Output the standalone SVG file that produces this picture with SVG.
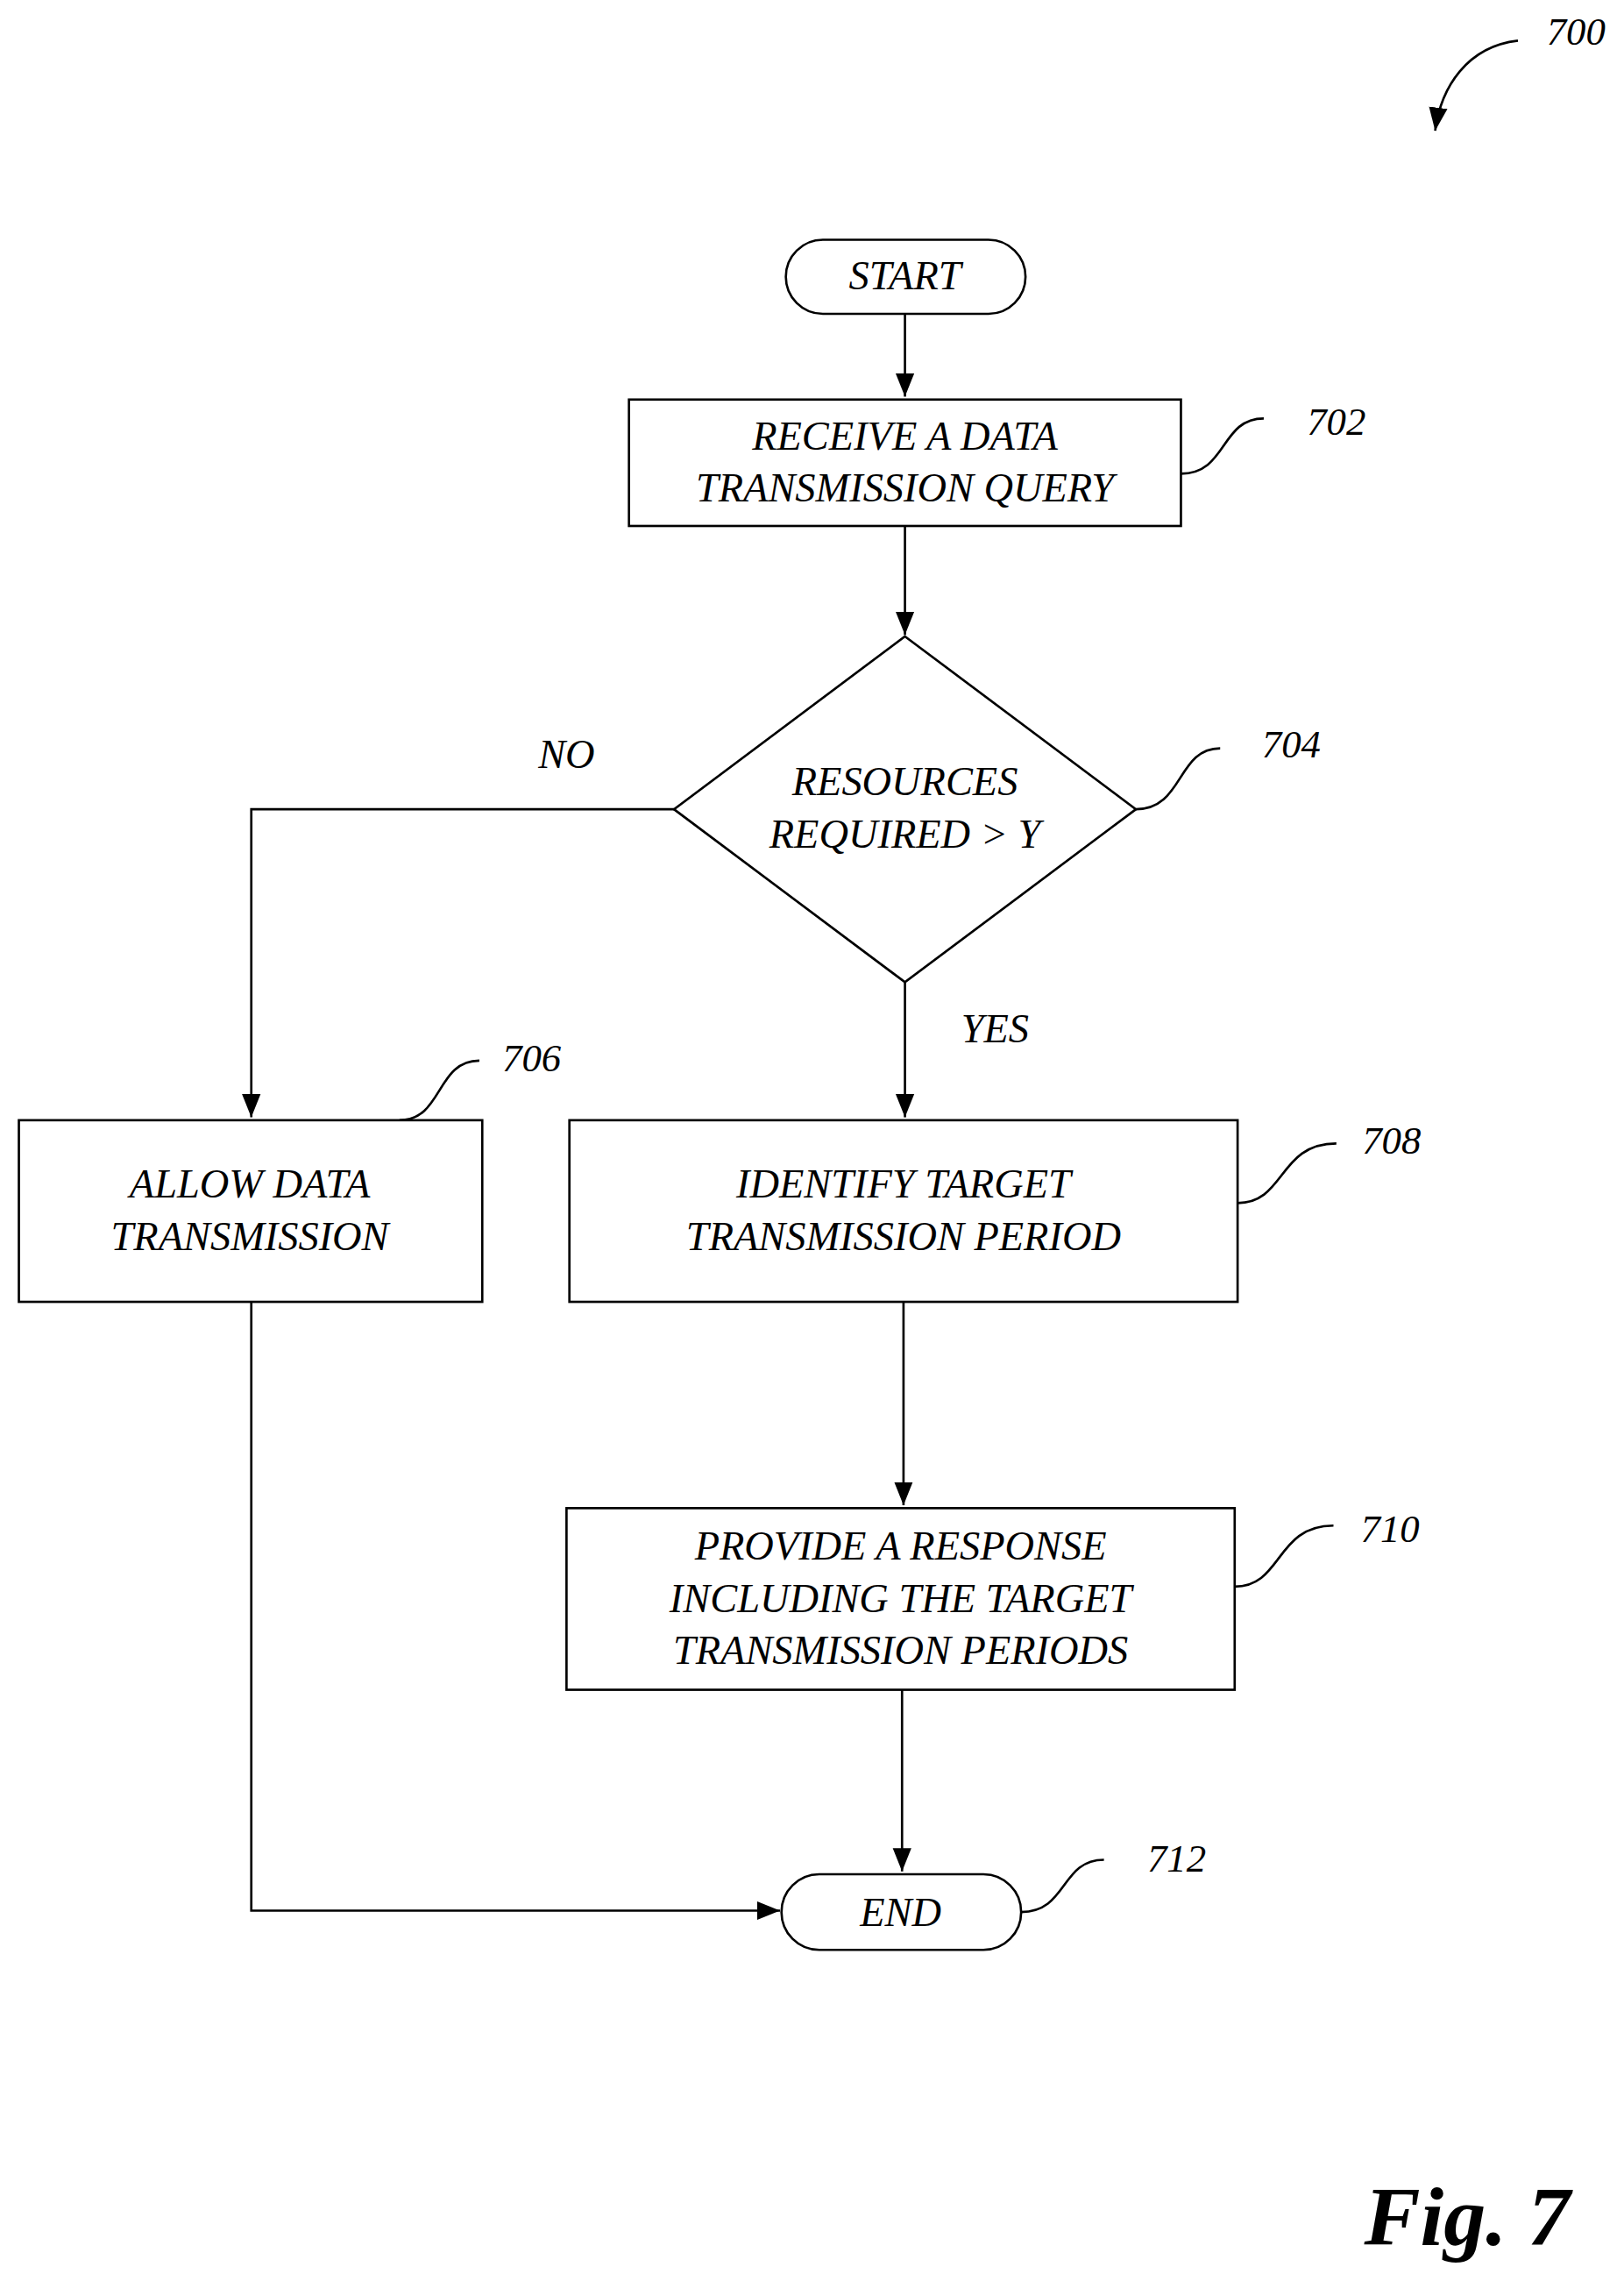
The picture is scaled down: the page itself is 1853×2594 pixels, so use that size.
<svg xmlns="http://www.w3.org/2000/svg" width="1853" height="2594" viewBox="0 0 1853 2594">
<style>
.s{fill:#fff;stroke:#000;stroke-width:1.6}
.c{fill:none;stroke:#000;stroke-width:1.6}
.t{font-family:"Liberation Serif",serif;font-style:italic;font-size:28px;text-anchor:middle;dominant-baseline:central}
.n{font-family:"Liberation Serif",serif;font-style:italic;font-size:27px;text-anchor:middle;dominant-baseline:central}
</style>
<defs><marker id="a" viewBox="0 0 10 10" refX="10" refY="5" markerWidth="10" markerHeight="10" markerUnits="userSpaceOnUse" orient="auto"><path d="M0,1 L10,5 L0,9Z"/></marker>
<marker id="b" viewBox="0 0 10 10" refX="10" refY="5" markerWidth="16" markerHeight="16" markerUnits="userSpaceOnUse" orient="auto"><path d="M0,1 L10,5 L0,9Z"/></marker></defs>
<rect width="1853" height="2594" fill="#fff"/>
<g transform="scale(1.6574)">
<g id="connectors">
<path class="c" marker-end="url(#b)" d="M623,216V273"/>
<path class="c" marker-end="url(#b)" d="M623,362V437"/>
<path class="c" marker-end="url(#b)" d="M464,557H173V769"/>
<path class="c" marker-end="url(#b)" d="M623,676V769"/>
<path class="c" marker-end="url(#b)" d="M622,896V1036"/>
<path class="c" marker-end="url(#b)" d="M621,1163V1288"/>
<path class="c" marker-end="url(#b)" d="M173,896V1315H537"/>
<path class="c" d="M813,326C845,326 840,288 870,288"/>
<path class="c" d="M782,557C815,557 810,515 840,515"/>
<path class="c" d="M275,771C305,771 300,730 330,730"/>
<path class="c" d="M852,828C885,828 880,787 920,787"/>
<path class="c" d="M850,1092C883,1092 878,1050 918,1050"/>
<path class="c" d="M703,1316C735,1316 730,1280 760,1280"/>
<path class="c" marker-end="url(#b)" d="M1045,28C1010,32 992,60 988,90"/>
</g>
<text class="n" x="1085" y="22">700</text>
<g id="start"><rect class="s" x="541" y="165" width="165" height="51" rx="25.5"/><text class="t" x="623" y="190">START</text></g>
<g id="n702"><rect class="s" x="433" y="275" width="380" height="87"/><text class="t" x="623" y="300">RECEIVE A DATA</text><text class="t" x="623" y="336">TRANSMISSION QUERY</text><text class="n" x="920" y="290">702</text></g>
<g id="n704"><path class="s" d="M623,438L782,557L623,676L464,557Z"/><text class="t" x="623" y="538">RESOURCES</text><text class="t" x="623" y="574">REQUIRED &gt; Y</text><text class="n" x="889" y="512">704</text></g>
<text class="t" x="390" y="519">NO</text>
<text class="t" x="685" y="708">YES</text>
<g id="n706"><rect class="s" x="13" y="771" width="319" height="125"/><text class="t" x="172" y="815">ALLOW DATA</text><text class="t" x="172" y="851">TRANSMISSION</text><text class="n" x="366" y="728">706</text></g>
<g id="n708"><rect class="s" x="392" y="771" width="460" height="125"/><text class="t" x="622" y="815">IDENTIFY TARGET</text><text class="t" x="622" y="851">TRANSMISSION PERIOD</text><text class="n" x="958" y="785">708</text></g>
<g id="n710"><rect class="s" x="390" y="1038" width="460" height="125"/><text class="t" x="620" y="1064">PROVIDE A RESPONSE</text><text class="t" x="620" y="1100">INCLUDING THE TARGET</text><text class="t" x="620" y="1136">TRANSMISSION PERIODS</text><text class="n" x="957" y="1052">710</text></g>
<g id="end"><rect class="s" x="538" y="1290" width="165" height="52" rx="26"/><text class="t" x="620" y="1316">END</text><text class="n" x="810" y="1279">712</text></g>
<text x="1010" y="1545" font-family="Liberation Serif,serif" font-style="italic" font-weight="bold" font-size="58" text-anchor="middle">Fig. 7</text>
</g>
</svg>
